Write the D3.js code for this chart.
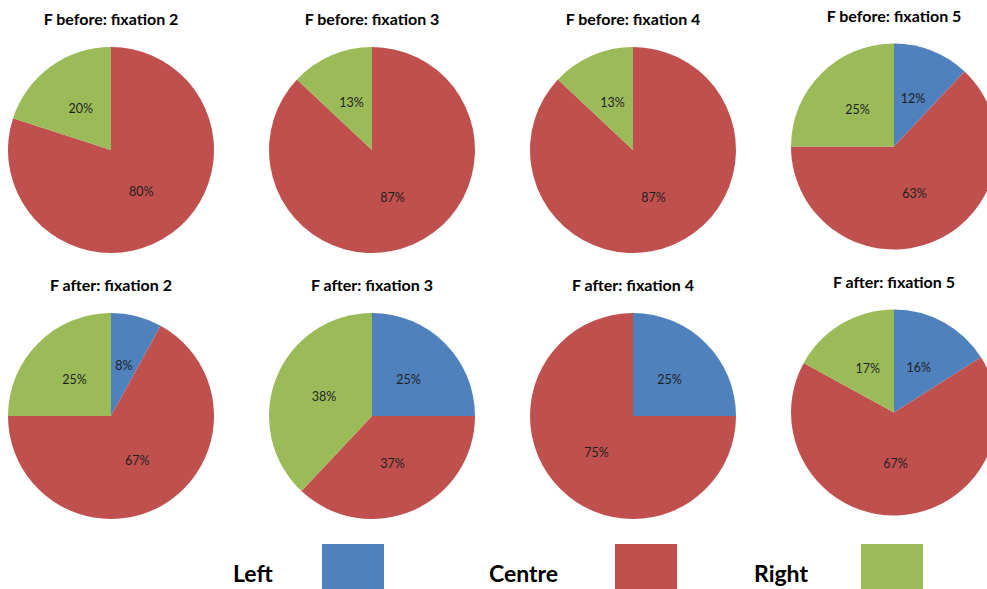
<!DOCTYPE html>
<html>
<head>
<meta charset="utf-8">
<script src="https://cdn.jsdelivr.net/npm/d3@7"></script>
<style>
  html, body { margin: 0; padding: 0; background: #fff; }
  svg { display: block; }
</style>
</head>
<body>
<svg id="chart" width="987" height="589"></svg>
<script>
// ---- Data ----
const titles = [
  "F before: fixation 2", "F before: fixation 3", "F before: fixation 4", "F before: fixation 5",
  "F after: fixation 2", "F after: fixation 3", "F after: fixation 4", "F after: fixation 5"
];
const categories = ["Left", "Centre", "Right"];
const leftValues   = [0, 0, 0, 12, 8, 25, 25, 16];
const centreValues = [80, 87, 87, 63, 67, 37, 75, 67];
const rightValues  = [20, 13, 13, 25, 25, 38, 0, 17];
const colors = ["#4F81BD", "#C0504D", "#9BBB59"];

// ---- Layout ----
const svg = d3.select("#chart");
const radius = 103;
const colX = d3.scaleLinear().domain([0, 3]).range([111, 894]);
const rowY = d3.scaleLinear().domain([0, 1]).range([150, 416]);
const color = d3.scaleOrdinal().domain(categories).range(colors);

const pie = d3.pie().sort(null).value(d => d.value);
const arc = d3.arc().innerRadius(0).outerRadius(radius);
const labelArc = d3.arc().innerRadius(radius / 2).outerRadius(radius / 2);

titles.forEach((t, i) => {
  const col = i % 4, row = Math.floor(i / 4);
  const lift = col === 3 ? 3.5 : 0;
  const cx = colX(col), cy = rowY(row) - lift;
  const data = categories.map((c, k) => ({
    cat: c,
    value: [leftValues, centreValues, rightValues][k][i]
  }));
  const g = svg.append("g").attr("transform", `translate(${cx},${cy})`);
  const arcs = pie(data);
  g.selectAll("path").data(arcs).join("path")
    .attr("d", arc)
    .attr("fill", d => color(d.data.cat));
  g.selectAll("text.lbl").data(arcs.filter(d => d.data.value > 0)).join("text")
    .attr("class", "lbl")
    .attr("transform", d => `translate(${labelArc.centroid(d)})`)
    .attr("text-anchor", "middle")
    .attr("dy", "0.35em")
    .attr("font-family", "Lato, sans-serif")
    .attr("font-size", 12.5)
    .attr("fill", "#1f1f1f")
    .text(d => d.data.value + "%");
  svg.append("text")
    .attr("x", cx)
    .attr("y", rowY(row) - 125 - lift)
    .attr("text-anchor", "middle")
    .attr("font-family", "Lato, sans-serif")
    .attr("font-weight", "bold")
    .attr("font-size", 16)
    .attr("fill", "#000")
    .text(t);
});

// ---- Legend ----
const legendTextX = [233, 489, 754];
const legendRectX = [322, 615, 861];
categories.forEach((c, k) => {
  svg.append("text")
    .attr("x", legendTextX[k])
    .attr("y", 582)
    .attr("font-family", "Lato, sans-serif")
    .attr("font-weight", "bold")
    .attr("font-size", 23)
    .attr("fill", "#000")
    .text(c);
  svg.append("rect")
    .attr("x", legendRectX[k])
    .attr("y", 544)
    .attr("width", 62)
    .attr("height", 50)
    .attr("fill", color(c));
});
</script>
</body>
</html>
